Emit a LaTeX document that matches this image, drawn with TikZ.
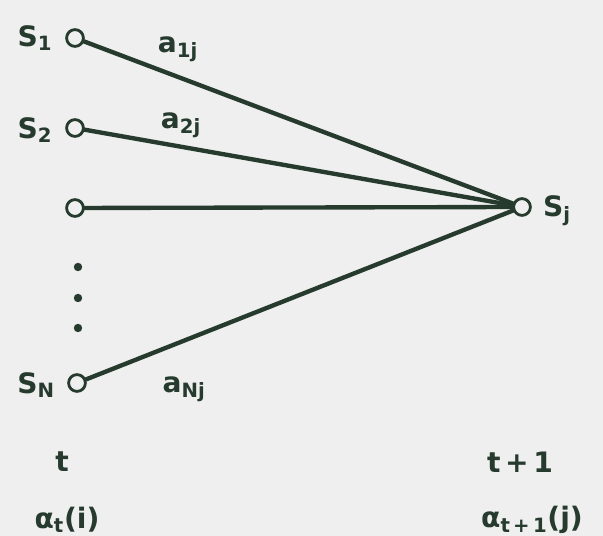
\documentclass[tikz,border=0pt]{standalone}
\usepackage{fontspec}
\setmainfont{DejaVu Sans}
\definecolor{ink}{HTML}{263A2E}
\definecolor{paper}{HTML}{EEEFEE}
\begin{document}
\begin{tikzpicture}[x=0.025cm,y=0.025cm,line cap=round,line join=round,
  state/.style={circle,draw=ink,line width=2pt,fill=paper,inner sep=0pt,minimum size=0.42cm},
  lbl/.style={text=ink,font=\fontsize{20}{24}\selectfont\bfseries,inner sep=0pt},
  edge/.style={draw=ink,line width=3.1pt}]
  \fill[paper] (0,0) rectangle (603,536);
  \useasboundingbox (0,0) rectangle (603,536);
  % states at time t
  \node[state] (s1) at (75,498) {};
  \node[state] (s2) at (75,408) {};
  \node[state] (s3) at (75,328) {};
  \node[state] (sN) at (77,153) {};
  % state at time t+1
  \node[state] (sj) at (522,329) {};
  \foreach \y in {269,238,208}
    \fill[ink] (78,\y) circle[radius=4.2];
  \draw[edge] (s1) -- (sj);
  \draw[edge] (s2) -- (sj);
  \draw[edge] (s3) -- (sj);
  \draw[edge] (sN) -- (sj);
  % labels
  \node[lbl] (ls1) at (35,498) {S\textsubscript{1}};
  \node[lbl] (ls2) at (35,406) {S\textsubscript{2}};
  \node[lbl] (lsN) at (36,151) {S\textsubscript{N}};
  \node[lbl] (lsj) at (557,325) {S\textsubscript{j}};
  \node[lbl] (la1) at (178,487) {a\textsubscript{1j}};
  \node[lbl] (la2) at (181,411) {a\textsubscript{2j}};
  \node[lbl] (laN) at (184,147) {a\textsubscript{Nj}};
  \node[lbl] (lt) at (62,74) {t};
  \node[lbl] (lt1) at (520,74) {t\,+\,1};
  \node[lbl] (al) at (67,16) {α\textsubscript{t}(i)};
  \node[lbl] (al1) at (532,16) {α\textsubscript{t\,+\,1}(j)};
\end{tikzpicture}
\end{document}
